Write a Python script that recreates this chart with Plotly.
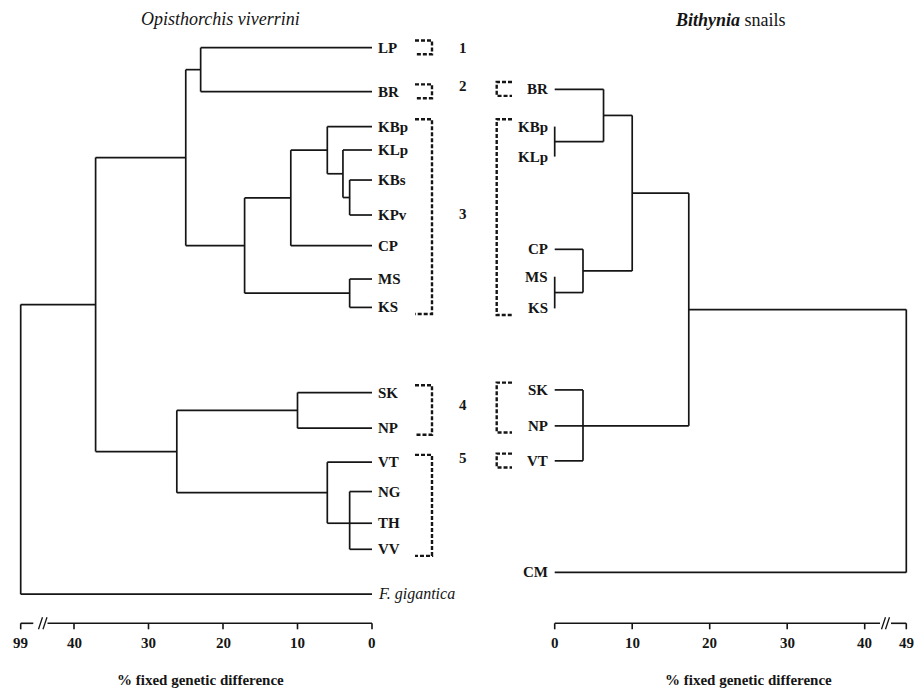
import numpy as np
import plotly.graph_objects as go

W, H = 918, 694

# ---------------- data ----------------
# Left tree: Opisthorchis viverrini (leaf order top -> bottom)
left_leaves = ["LP", "BR", "KBp", "KLp", "KBs", "KPv", "CP", "MS", "KS",
               "SK", "NP", "VT", "NG", "TH", "VV", "F. gigantica"]
left_rows = [0.0, 1.33, 2.39, 3.10, 4.01, 5.07, 6.00, 7.01, 7.87,
             10.45, 11.53, 12.56, 13.45, 14.41, 15.20, 16.56]
left_node_names = ["A", "B", "C", "D", "E", "F", "G", "H", "I", "J", "K", "L", "M", "R"]
left_node_children = [["KBs", "KPv"], ["KLp", "A"], ["KBp", "B"], ["C", "CP"],
                      ["MS", "KS"], ["D", "E"], ["LP", "BR"], ["G", "F"],
                      ["SK", "NP"], ["NG", "TH", "VV"], ["VT", "J"], ["I", "K"],
                      ["H", "L"], ["M", "F. gigantica"]]
left_node_heights = [3.0, 3.9, 6.0, 10.9, 3.0, 17.1, 23.0, 25.0, 10.0, 3.0, 6.0, 26.2, 37.1, 99.0]
left_tick_values = [0, 10, 20, 30, 40, 99]

# Right tree: Bithynia snails
right_leaves = ["BR", "KBp", "KLp", "CP", "MS", "KS", "SK", "NP", "VT", "CM"]
right_rows = [1.26, 2.39, 3.30, 6.11, 6.94, 7.90, 10.37, 11.46, 12.52, 15.90]
right_node_names = ["a", "b", "c", "d", "e", "f", "g", "r"]
right_node_children = [["KBp", "KLp"], ["BR", "a"], ["MS", "KS"], ["CP", "c"],
                       ["b", "d"], ["SK", "NP", "VT"], ["e", "f"], ["g", "CM"]]
right_node_heights = [0.0, 6.3, 0.0, 3.65, 10.0, 3.65, 17.3, 49.0]
right_tick_values = [0, 10, 20, 30, 40, 49]

# Matching groups (first, last member)
group_ids = [1, 2, 3, 4, 5]
left_group_spans = [("LP", "LP"), ("BR", "BR"), ("KBp", "KS"), ("SK", "NP"), ("VT", "VV")]
right_group_spans = [None, ("BR", "BR"), ("KBp", "KS"), ("SK", "NP"), ("VT", "VT")]

# ---------------- layout geometry ----------------
LEFT_ZERO_PX, LEFT_PX_PER_UNIT = 372.0, 7.45
RIGHT_ZERO_PX, RIGHT_PX_PER_UNIT = 554.7, 7.75
ROW0_PX, ROW_PX = 47.7, 33.0
LEFT_BREAK_AT = (372.0 - 20.7) / 7.45     # drawn position of values beyond the break
RIGHT_BREAK_AT = (906.3 - 554.7) / 7.75
AXIS_Y_PX = 623.3
FONT = "Liberation Serif"
INK = "#151515"


def left_disp(v):
    return v if v <= 40 else LEFT_BREAK_AT


def right_disp(v):
    return v if v <= 40 else RIGHT_BREAK_AT


def px(p):
    return p / W


def py(p):
    return 1 - p / H


def lx_from_px(p):
    return (LEFT_ZERO_PX - p) / LEFT_PX_PER_UNIT


def rx_from_px(p):
    return (p - RIGHT_ZERO_PX) / RIGHT_PX_PER_UNIT


def build(leaves, rows, names, children, heights, disp):
    pos = {l: (0.0, r) for l, r in zip(leaves, rows)}
    xs, ys = [], []
    for n, ch, h in zip(names, children, heights):
        hx = disp(h)
        cy = [pos[c][1] for c in ch]
        ny = float(np.median(cy))
        xs += [hx, hx, None]
        ys += [min(cy), max(cy), None]
        for c in ch:
            cx, cyy = pos[c]
            xs += [cx, hx, None]
            ys += [cyy, cyy, None]
        pos[n] = (hx, ny)
    return xs, ys


lx, ly = build(left_leaves, left_rows, left_node_names, left_node_children,
               left_node_heights, left_disp)
rx, ry = build(right_leaves, right_rows, right_node_names, right_node_children,
               right_node_heights, right_disp)

fig = go.Figure()
fig.add_trace(go.Scatter(x=lx, y=ly, mode="lines", xaxis="x", yaxis="y",
                         line=dict(color=INK, width=1.7), hoverinfo="skip"))
fig.add_trace(go.Scatter(x=rx, y=ry, mode="lines", xaxis="x2", yaxis="y",
                         line=dict(color=INK, width=1.7), hoverinfo="skip"))

ann = []
shapes = []

# leaf labels
for name, r in zip(left_leaves, left_rows):
    if name.startswith("F."):
        txt, size = "<i>" + name + "</i>", 16
    else:
        txt, size = "<b>" + name + "</b>", 15
    ann.append(dict(x=0, y=r, xref="x", yref="y", text=txt, showarrow=False,
                    xanchor="left", yanchor="middle", xshift=4,
                    font=dict(family=FONT, size=size, color=INK)))
for name, r in zip(right_leaves, right_rows):
    ann.append(dict(x=0, y=r, xref="x2", yref="y", text="<b>" + name + "</b>",
                    showarrow=False, xanchor="right", yanchor="middle", xshift=-5,
                    font=dict(family=FONT, size=15, color=INK)))

# dashed group brackets and group numbers
lrow = dict(zip(left_leaves, left_rows))
rrow = dict(zip(right_leaves, right_rows))
PAD_TOP, PAD_BOT = 0.22, 0.2
dash = dict(color=INK, width=2.4, dash="4px,2px")
for gid, ls, rs in zip(group_ids, left_group_spans, right_group_spans):
    y0 = lrow[ls[0]] - PAD_TOP
    y1 = lrow[ls[1]] + PAD_BOT
    x0, x1 = px(415), px(432)
    shapes.append(dict(type="path", xref="paper", yref="y",
                       path=f"M {x0},{y0} L {x1},{y0} L {x1},{y1} L {x0},{y1}",
                       line=dash))
    if rs is not None:
        y0 = rrow[rs[0]] - PAD_TOP
        y1 = rrow[rs[1]] + PAD_BOT
        x0, x1 = px(512), px(496.7)
        shapes.append(dict(type="path", xref="paper", yref="y",
                           path=f"M {x0},{y0} L {x1},{y0} L {x1},{y1} L {x0},{y1}",
                           line=dash))
        ymid = (rrow[rs[0]] + rrow[rs[1]]) / 2 - 0.1
    else:
        ymid = (lrow[ls[0]] + lrow[ls[1]]) / 2
    ann.append(dict(x=px(463), y=ymid, xref="paper", yref="y", text=f"<b>{gid}</b>",
                    showarrow=False, xanchor="center", yanchor="middle",
                    font=dict(family=FONT, size=15, color=INK)))

# axes (drawn)
axis_line = dict(color=INK, width=1.6)
ay, ay_tick, ay_lab = py(AXIS_Y_PX), py(AXIS_Y_PX + 6), py(642.7)
# left axis with break
shapes.append(dict(type="line", xref="x", yref="paper", x0=0, x1=lx_from_px(47.5),
                   y0=ay, y1=ay, line=axis_line))
shapes.append(dict(type="line", xref="x", yref="paper", x0=lx_from_px(33.3),
                   x1=LEFT_BREAK_AT, y0=ay, y1=ay, line=axis_line))
for bx in (38.5, 43.0):
    shapes.append(dict(type="line", xref="paper", yref="paper", x0=px(bx), x1=px(bx + 4),
                       y0=py(AXIS_Y_PX + 6), y1=py(AXIS_Y_PX - 6), line=dict(color=INK, width=1.3)))
for v in left_tick_values:
    xv = left_disp(v)
    shapes.append(dict(type="line", xref="x", yref="paper", x0=xv, x1=xv,
                       y0=ay, y1=ay_tick, line=axis_line))
    ann.append(dict(x=xv, y=ay_lab, xref="x", yref="paper", text=f"<b>{v}</b>",
                    showarrow=False, xanchor="center", yanchor="middle",
                    font=dict(family=FONT, size=15, color=INK)))
# right axis with break
shapes.append(dict(type="line", xref="x2", yref="paper", x0=0, x1=rx_from_px(880),
                   y0=ay, y1=ay, line=axis_line))
shapes.append(dict(type="line", xref="x2", yref="paper", x0=rx_from_px(891),
                   x1=RIGHT_BREAK_AT, y0=ay, y1=ay, line=axis_line))
for bx in (881.5, 885.5):
    shapes.append(dict(type="line", xref="paper", yref="paper", x0=px(bx), x1=px(bx + 4),
                       y0=py(AXIS_Y_PX + 6), y1=py(AXIS_Y_PX - 6), line=dict(color=INK, width=1.3)))
for v in right_tick_values:
    xv = right_disp(v)
    shapes.append(dict(type="line", xref="x2", yref="paper", x0=xv, x1=xv,
                       y0=ay, y1=ay_tick, line=axis_line))
    ann.append(dict(x=xv, y=ay_lab, xref="x2", yref="paper", text=f"<b>{v}</b>",
                    showarrow=False, xanchor="center", yanchor="middle",
                    font=dict(family=FONT, size=15, color=INK)))

# titles
ann.append(dict(x=px(220), y=py(19), xref="paper", yref="paper",
                text="<i>Opisthorchis viverrini</i>", showarrow=False,
                xanchor="center", yanchor="middle", font=dict(family=FONT, size=18, color=INK)))
ann.append(dict(x=px(730), y=py(20), xref="paper", yref="paper",
                text="<b><i>Bithynia</i></b> snails", showarrow=False,
                xanchor="center", yanchor="middle", font=dict(family=FONT, size=18, color=INK)))
for cx in (200.8, 748):
    ann.append(dict(x=px(cx), y=py(680), xref="paper", yref="paper",
                    text="<b>% fixed genetic difference</b>", showarrow=False,
                    xanchor="center", yanchor="middle", font=dict(family=FONT, size=15, color=INK)))

fig.update_layout(
    width=W, height=H, margin=dict(l=0, r=0, t=0, b=0, pad=0),
    paper_bgcolor="white", plot_bgcolor="white", showlegend=False,
    xaxis=dict(domain=[0, 1], range=[LEFT_ZERO_PX / LEFT_PX_PER_UNIT,
                                     (LEFT_ZERO_PX - W) / LEFT_PX_PER_UNIT],
               visible=False, fixedrange=True),
    xaxis2=dict(domain=[0, 1], range=[-RIGHT_ZERO_PX / RIGHT_PX_PER_UNIT,
                                      (W - RIGHT_ZERO_PX) / RIGHT_PX_PER_UNIT],
                overlaying="x", anchor="y", visible=False, fixedrange=True),
    yaxis=dict(domain=[0, 1], range=[(H - ROW0_PX) / ROW_PX, -ROW0_PX / ROW_PX],
               visible=False, fixedrange=True),
    annotations=ann, shapes=shapes,
)

fig.write_html("out.html", config={"displayModeBar": False},
               post_script="document.body.style.margin='0';")
